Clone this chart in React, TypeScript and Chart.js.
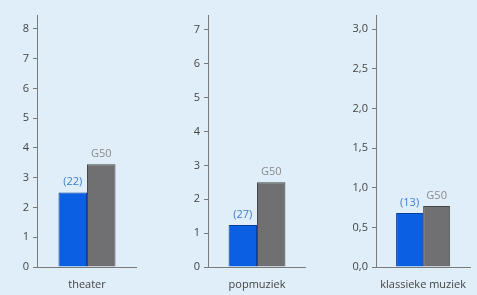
import React, { useEffect, useRef } from "react";
import { Chart, registerables } from "chart.js";

Chart.register(...registerables);

const categories = ["theater", "popmuziek", "klassieke muziek"];
const blueValues = [2.5, 1.24, 0.68];
const g50Values = [3.45, 2.5, 0.77];
const blueLabels = ["(22)", "(27)", "(13)"];
const g50Label = "G50";
const yMaxes = [8.47, 7.44, 3.18];
const yTicks1 = [0, 1, 2, 3, 4, 5, 6, 7, 8];
const yTicks2 = [0, 1, 2, 3, 4, 5, 6, 7];
const yTicks3 = [0, 0.5, 1.0, 1.5, 2.0, 2.5, 3.0];
const yTickSets = [yTicks1, yTicks2, yTicks3];
const decimalTicks = [false, false, true];

const panels = [
  { left: 0, width: 137, axisWidth: 37, catPct: 0.57 },
  { left: 160, width: 146, axisWidth: 48, catPct: 0.58 },
  { left: 317, width: 160, axisWidth: 59, catPct: 0.574 },
];

const BLUE = "#0b5fe3";
const BLUE_BORDER = "#0b3f9e";
const GRAY = "#707072";
const GRAY_BORDER = "#474747";
const AXIS = "#7a7a7a";
const FONT = "'Open Sans', 'Noto Sans', sans-serif";

const labelPlugin = {
  id: "barLabels",
  afterDatasetsDraw(chart: any) {
    const ctx = chart.ctx;
    ctx.save();
    ctx.font = `11px ${FONT}`;
    ctx.textAlign = "center";
    ctx.textBaseline = "bottom";
    chart.data.datasets.forEach((ds: any, di: number) => {
      const meta = chart.getDatasetMeta(di);
      meta.data.forEach((bar: any) => {
        ctx.fillStyle = ds.labelColor;
        ctx.fillText(ds.topLabel, bar.x, bar.y - 5);
      });
    });
    ctx.restore();
  },
};

function Panel({ idx }: { idx: number }) {
  const ref = useRef<HTMLCanvasElement>(null);
  useEffect(() => {
    const p = panels[idx];
    const ticks = yTickSets[idx];
    const chart = new Chart(ref.current!, {
      type: "bar",
      data: {
        labels: [categories[idx]],
        datasets: [
          {
            data: [blueValues[idx]],
            backgroundColor: BLUE,
            borderColor: BLUE_BORDER,
            borderWidth: 1,
            topLabel: blueLabels[idx],
            labelColor: "#3d7bd9",
          } as any,
          {
            data: [g50Values[idx]],
            backgroundColor: GRAY,
            borderColor: GRAY_BORDER,
            borderWidth: 1,
            topLabel: g50Label,
            labelColor: "#8a8a8a",
          } as any,
        ],
      },
      options: {
        animation: false,
        responsive: false,
        maintainAspectRatio: false,
        layout: { padding: { top: 15, right: 0, bottom: 0, left: 0 } },
        datasets: { bar: { categoryPercentage: p.catPct, barPercentage: 1 } },
        plugins: { legend: { display: false }, tooltip: { enabled: false } },
        scales: {
          x: {
            grid: { display: false, drawTicks: false },
            border: { display: true, color: AXIS, width: 1 },
            ticks: { color: "#444", font: { family: FONT, size: 11 }, padding: 11 },
            afterFit: (s: any) => {
              s.height = 28;
            },
          },
          y: {
            min: 0,
            max: yMaxes[idx],
            grid: { drawOnChartArea: false, drawTicks: true, tickLength: 4, color: AXIS },
            border: { display: true, color: AXIS, width: 1 },
            ticks: {
              color: "#444",
              font: { family: FONT, size: 11 },
              padding: 4,
              callback: (v: any) =>
                decimalTicks[idx] ? Number(v).toFixed(1).replace(".", ",") : String(v),
            },
            afterBuildTicks: (s: any) => {
              s.ticks = ticks.map((v) => ({ value: v }));
            },
            afterFit: (s: any) => {
              s.width = p.axisWidth;
            },
          },
        },
      },
      plugins: [labelPlugin],
    });
    return () => chart.destroy();
  }, [idx]);
  const p = panels[idx];
  return (
    <canvas
      ref={ref}
      width={p.width}
      height={295}
      style={{ position: "absolute", left: p.left, top: 0, width: p.width, height: 295 }}
    />
  );
}

export default function App() {
  return (
    <div
      style={{
        position: "absolute",
        left: 0,
        top: 0,
        width: 477,
        height: 295,
        background: "#dfeef8",
        overflow: "hidden",
      }}
    >
      <Panel idx={0} />
      <Panel idx={1} />
      <Panel idx={2} />
    </div>
  );
}
